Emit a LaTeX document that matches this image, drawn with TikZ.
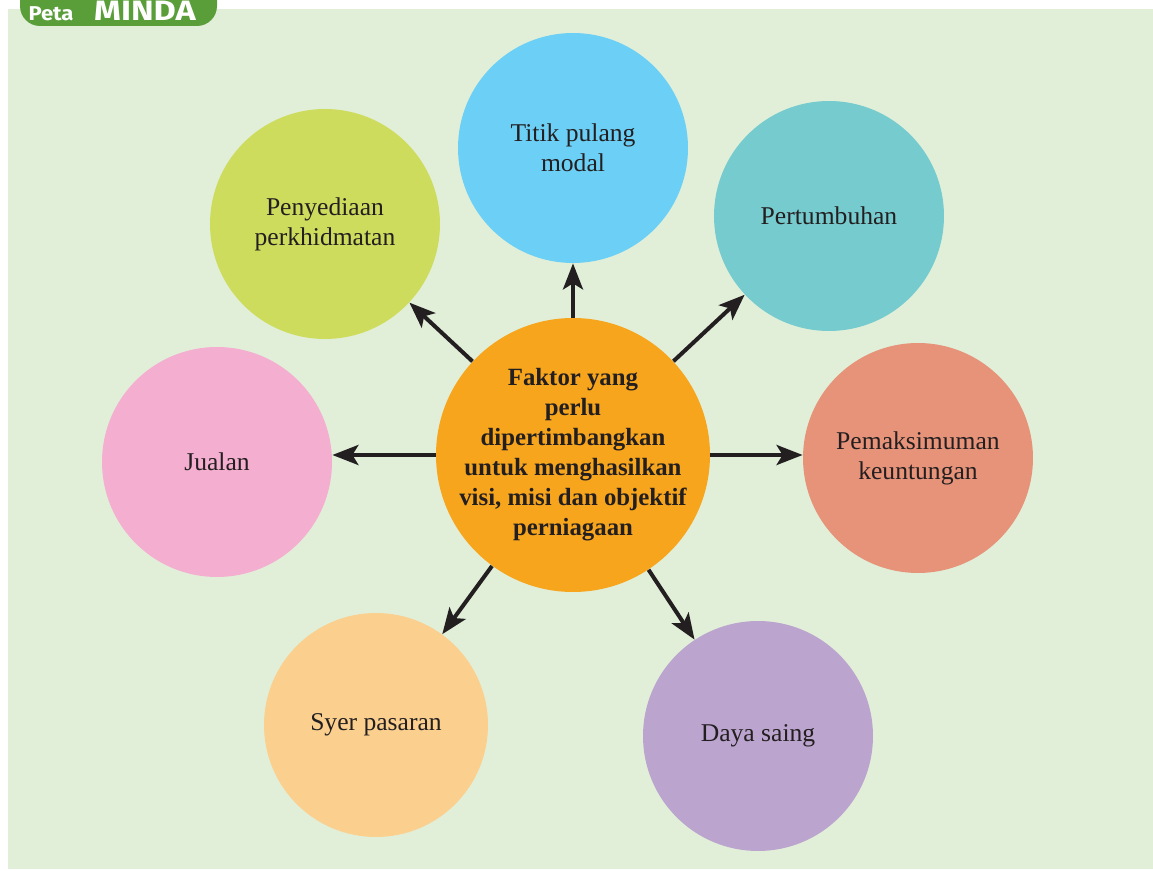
\documentclass[tikz,border=0pt]{standalone}
\usepackage{fontspec}
\setmainfont{Liberation Serif}
\newfontfamily\pillfont{Fira Sans}
\usetikzlibrary{arrows.meta,positioning}
\definecolor{panel}{HTML}{E1EFD9}
\definecolor{pillgreen}{HTML}{5A9E3A}
\definecolor{inkdark}{HTML}{231F20}
\definecolor{coreorange}{HTML}{F8A51E}
\definecolor{skyblue}{HTML}{6CCFF6}
\definecolor{tealc}{HTML}{76CBCE}
\definecolor{salmonc}{HTML}{E6937A}
\definecolor{purplec}{HTML}{BBA4CE}
\definecolor{peachc}{HTML}{FBD08F}
\definecolor{pinkc}{HTML}{F4AECF}
\definecolor{limec}{HTML}{CEDC5D}

\begin{document}
\begin{tikzpicture}[x=0.5pt,y=-0.5pt,
  bubble/.style={circle,align=center,text=inkdark,minimum size=115pt,inner sep=0pt,
    font=\fontsize{12.8}{15}\selectfont},
  core/.style={bubble,fill=coreorange,minimum size=137pt,inner sep=-20pt,font=\fontsize{12.4}{15}\selectfont\bfseries},
  arr/.style={-{Stealth[length=13pt,width=10pt,inset=3pt]},line width=2pt,draw=inkdark}]
\useasboundingbox (0,0) rectangle (1153,871);
\clip (0,0) rectangle (1153,871);
\fill[panel] (8,9) rectangle (1153,869);
\fill[pillgreen,rounded corners=10pt] (20,-20) rectangle (217,26);
\node[font=\pillfont\bfseries\fontsize{10}{10}\selectfont,text=white,anchor=base] (peta) at (51,21) {\scalebox{1.1}[1]{Peta}};
\node[font=\pillfont\bfseries\fontsize{14}{14}\selectfont,text=white,anchor=base] (minda) at (145,21) {\scalebox{1.22}[1]{MINDA}};

\node[core] (fakt) at (573,455) {Faktor yang\\ perlu\\ dipertimbangkan\\ untuk menghasilkan\\ visi, misi dan objektif\\ perniagaan};
\node[bubble,fill=skyblue] (titik) at (573,148) {Titik pulang\\ modal};
\node[bubble,fill=tealc] (tumbuh) at (829,216) {Pertumbuhan};
\node[bubble,fill=salmonc] (maks) at (918,458) {Pemaksimuman\\ keuntungan};
\node[bubble,fill=purplec] (daya) at (758,736) {Daya saing};
\node[bubble,fill=peachc,minimum size=112pt] (syer) at (376,725) {Syer pasaran};
\node[bubble,fill=pinkc] (jualan) at (217,462) {Jualan};
\node[bubble,fill=limec] (sedia) at (325,224) {Penyediaan\\ perkhidmatan};

\draw[arr] (fakt) -- (titik);
\draw[arr] (fakt) -- (tumbuh);
\draw[arr] (fakt.east) -- (maks.west |- fakt.east);
\draw[arr] (fakt) -- (daya);
\draw[arr] (fakt) -- (syer);
\draw[arr] (fakt.west) -- (jualan.east |- fakt.west);
\draw[arr] (fakt) -- (sedia);
\end{tikzpicture}
\end{document}
